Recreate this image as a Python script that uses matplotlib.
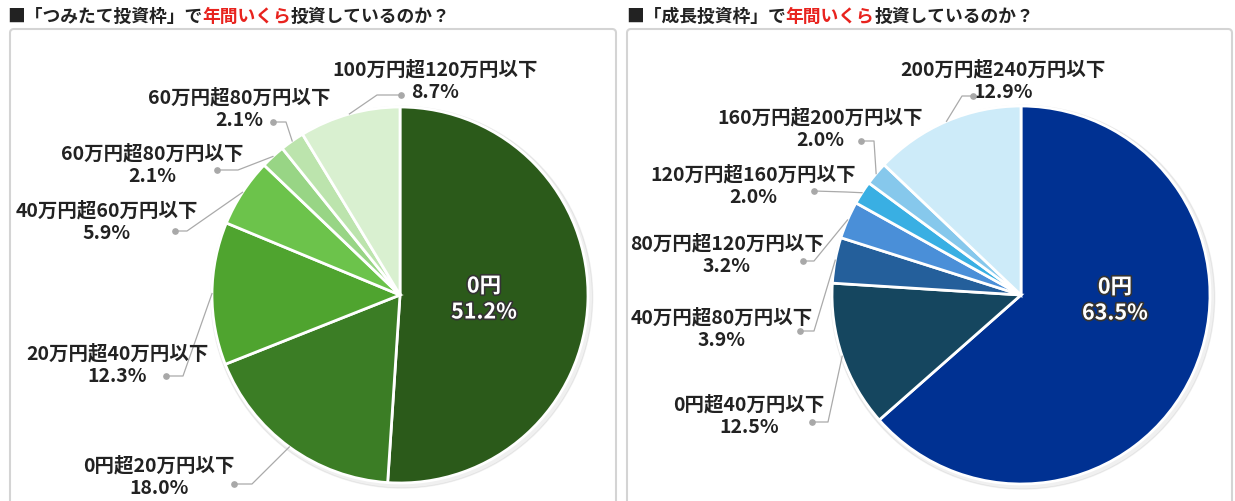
import numpy as np
import matplotlib
matplotlib.use("Agg")
import matplotlib.pyplot as plt
from matplotlib.patches import FancyBboxPatch
import matplotlib.patheffects as pe

plt.rcParams['font.family'] = ['Noto Sans CJK JP', 'DejaVu Sans']

# data
tsumitate_labels = ['0円', '0円超20万円以下', '20万円超40万円以下', '40万円超60万円以下',
                    '60万円超80万円以下', '60万円超80万円以下', '100万円超120万円以下']
tsumitate_values = [51.2, 18.0, 12.3, 5.9, 2.1, 2.1, 8.7]
tsumitate_colors = ['#2b5a1a', '#3b7d25', '#4fa42f', '#6cc34b', '#98d585', '#bce4ad', '#d9f0d0']

seicho_labels = ['0円', '0円超40万円以下', '40万円超80万円以下', '80万円超120万円以下',
                 '120万円超160万円以下', '160万円超200万円以下', '200万円超240万円以下']
seicho_values = [63.5, 12.5, 3.9, 3.2, 2.0, 2.0, 12.9]
seicho_colors = ['#003192', '#15465f', '#245f9b', '#4a8fd8', '#39afe3', '#86c8ec', '#cdebf9']

W, H = 1235, 502
fig = plt.figure(figsize=(W / 100, H / 100), dpi=100)
fig.patch.set_facecolor('white')

# background axes in pixel coordinates
bg = fig.add_axes([0, 0, 1, 1])
bg.set_xlim(0, W)
bg.set_ylim(H, 0)
bg.axis('off')

for x0, x1 in [(10, 616), (627, 1232)]:
    box = FancyBboxPatch((x0, 30), x1 - x0, 490, boxstyle='round,pad=0,rounding_size=4',
                         linewidth=1.5, edgecolor='#d4d4d4', facecolor='white')
    bg.add_patch(box)


def title(x, y, parts):
    prev = None
    for txt, col in parts:
        if prev is None:
            prev = bg.text(x, y, txt, color=col, fontsize=12.8, fontweight='bold',
                           ha='left', va='center')
        else:
            prev = bg.annotate(txt, xy=(1, 0), xycoords=prev, ha='left', va='bottom',
                               color=col, fontsize=12.8, fontweight='bold')


title(7, 17, [('■「つみたて投資枠」で', '#222222'), ('年間いくら', '#e8231e'),
              ('投資しているのか？', '#222222')])
title(626, 17, [('■「成長投資枠」で', '#222222'), ('年間いくら', '#e8231e'),
                ('投資しているのか？', '#222222')])


def draw_pie(cx, cy, R, values, colors, labels, layout, center_pos):
    ax = fig.add_axes([0, 0, 1, 1])
    ax.patch.set_alpha(0)
    wedges, _ = ax.pie(values, colors=colors, startangle=90, counterclock=False,
                       radius=1.0, wedgeprops=dict(edgecolor='white', linewidth=2))
    # soft shadow around the pie
    shadow = plt.Circle((0.01, -0.012), 1.015, color='#000000', alpha=0.06, zorder=0)
    ax.add_patch(shadow)
    ax.set_xlim((0 - cx) / R, (W - cx) / R)
    ax.set_ylim((cy - H) / R, cy / R)
    ax.set_aspect('auto')
    ax.axis('off')

    def p(x, y):
        return ((x - cx) / R, (cy - y) / R)

    for i, (w, lab, v) in enumerate(zip(wedges, labels, values)):
        if i == 0:
            tx, ty = center_pos
            for txt, yy in [(lab, ty - 13), (f'{v:.1f}%', ty + 13)]:
                ax.text(*p(tx, yy), txt, color='white', fontsize=15.5, fontweight='bold',
                        ha='center', va='center',
                        path_effects=[pe.withStroke(linewidth=2.4, foreground='#333333')])
            continue
        (tx, ty), elbow, dot = layout[i]
        ang = np.deg2rad((w.theta1 + w.theta2) / 2)
        sx, sy = np.cos(ang) * 1.0, np.sin(ang) * 1.0
        ex, ey = p(*elbow)
        dx, dy = p(*dot)
        ax.plot([sx, ex, dx], [sy, ey, dy], color='#aaaaaa', lw=0.9, zorder=3, clip_on=False)
        ax.plot([dx], [dy], 'o', color='#a8a8a8', ms=3.8, zorder=4, clip_on=False)
        ax.text(*p(tx, ty - 11.5), lab, color='#222222', fontsize=14, fontweight='bold',
                ha='center', va='center')
        ax.text(*p(tx, ty + 11.5), f'{v:.1f}%', color='#222222', fontsize=14,
                fontweight='bold', ha='center', va='center')


# label layout: (text centre), elbow, dot  in pixels
left_layout = {
    1: ((159, 477), (252, 485), (234, 485)),
    2: ((117, 365), (183, 377), (166, 377)),
    3: ((107, 222), (187, 232), (175, 232)),
    4: ((152, 165), (238, 171), (217, 171)),
    5: ((239, 109), (286, 123), (273, 123)),
    6: ((435, 81), (377, 96), (401, 96)),
}
right_layout = {
    1: ((749, 416), (828, 423), (812, 423)),
    2: ((722, 329), (814, 332), (800, 332)),
    3: ((727, 255), (814, 262), (803, 262)),
    4: ((753, 186), (846, 193), (814, 192)),
    5: ((820, 129), (874, 142), (861, 142)),
    6: ((1003, 81), (962, 97), (973, 97)),
}

draw_pie(400, 296, 188, tsumitate_values, tsumitate_colors, tsumitate_labels,
         left_layout, (484, 300))
draw_pie(1021, 296, 189, seicho_values, seicho_colors, seicho_labels,
         right_layout, (1115, 301))

fig.savefig('out.png', dpi=100, facecolor='white')
